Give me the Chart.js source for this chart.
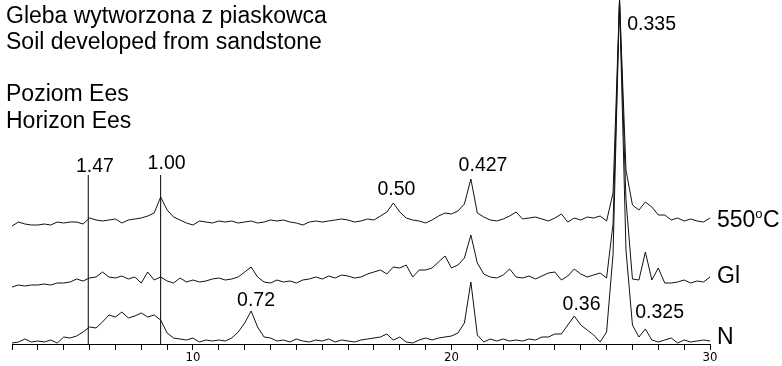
<!DOCTYPE html>
<html><head><meta charset="utf-8">
<script src="https://cdn.jsdelivr.net/npm/chart.js@4.4.1/dist/chart.umd.min.js"></script>
<style>html,body{margin:0;padding:0;background:#fff;overflow:hidden}canvas{display:block}</style>
</head><body>
<canvas id="c" width="782" height="366"></canvas>
<script>
// ---- DATA ----
const twoTheta = [3,3.25,3.5,3.75,4,4.25,4.5,4.75,5,5.25,5.5,5.75,6,6.25,6.5,6.75,7,7.25,7.5,7.75,8,8.25,8.5,8.75,9,9.25,9.5,9.75,10,10.25,10.5,10.75,11,11.25,11.5,11.75,12,12.25,12.5,12.75,13,13.25,13.5,13.75,14,14.25,14.5,14.75,15,15.25,15.5,15.75,16,16.25,16.5,16.75,17,17.25,17.5,17.75,18,18.25,18.5,18.75,19,19.25,19.5,19.75,20,20.25,20.5,20.75,21,21.25,21.5,21.75,22,22.25,22.5,22.75,23,23.25,23.5,23.75,24,24.25,24.5,24.75,25,25.25,25.5,25.75,26,26.25,26.5,26.75,27,27.25,27.5,27.75,28,28.25,28.5,28.75,29,29.25,29.5,29.75,30];
const seriesNames = ['N', 'Gl', '550°C'];
const intensityN = [
 1,2,5,2, 3,2,4,1, 7,6,8,12, 17,16,22,29, 27,32,26,28, 31,27,29,24, 11,6,5,4,
 6,2,4,3, 4,3,6,12, 21,33,17,7, 6,3,4,2, 5,3,2,4, 3,5,2,4, 3,2,4,5, 6,7,10,4,
 7,2,1,4, 6,4,6,7, 8,11,21,62, 9,2,5,3, 5,3,4,3, 5,4,7,7, 10,10,19,28, 19,14,9,2,
 12,90,344,94, 19,7,15,4, 2,4,6,1, 4,2,3,4, 3];
const intensityGl = [
 1,3,2,3, 3,4,3,5, 5,6,9,7, 10,11,16,11, 10,12,9,11, 5,16,8,11, 7,5,10,6,
 8,6,7,9, 10,8,9,11, 16,21,11,6, 5,8,6,7, 5,8,9,11, 9,12,10,13, 12,10,11,14, 16,18,14,21,
 20,23,11,18, 18,20,26,32, 20,23,30,53, 25,14,11,10, 13,19,11,10, 12,9,12,15, 16,8,12,19, 14,11,13,15,
 10,64,288,88, 9,8,36,8, 20,5,5,6, 8,5,7,6, 11];
const intensity550 = [
 3,7,5,4, 4,5,4,7, 6,7,7,5, 11,9,8,9, 10,6,9,10, 11,13,16,32, 19,12,9,6,
 4,8,7,6, 8,7,8,6, 7,8,6,7, 9,8,9,7, 6,4,7,8, 7,8,9,10, 9,7,8,10, 9,13,17,26,
 17,11,9,8, 6,9,13,16, 15,18,25,50, 16,12,9,8, 10,13,17,10, 11,12,10,8, 11,15,7,11, 9,12,11,13,
 8,36,229,59, 24,19,27,22, 14,14,9,11, 8,10,8,7, 11];
const markerAngles = [5.95, 8.75];
const markerLabels = ['1.47', '1.00'];
const peakLabels = ['0.50', '0.427', '0.72', '0.36', '0.325', '0.335'];
const tickLabels = [10, 20, 30];
const titleLines = ['Gleba wytworzona z piaskowca', 'Soil developed from sandstone', '', 'Poziom Ees', 'Horizon Ees'];

// ---- LAYOUT / STYLE ----
const stackOffsets = [0, 56, 115];
const seriesLabelBase = [0, 61, 117];   // label baseline level per series (y units)
const markerTop = 169;
const markerLabelAnchors = [[6.21, 172], [8.98, 175]];
const peakLabelAnchors = [[17.87, 149], [21.22, 173.3], [12.44, 38], [25.03, 34], [28.05, 25.7], [27.74, 314]];
const FONT = '"Liberation Sans", Arial, sans-serif';

const seriesValues = [intensityN, intensityGl, intensity550];
const datasets = seriesValues.map((vals, s) => ({
  label: seriesNames[s],
  data: twoTheta.map((t, i) => ({x: t, y: vals[i] + stackOffsets[s]})),
  showLine: true, borderColor: '#111', borderWidth: 1, pointRadius: 0, tension: 0
}));
markerAngles.forEach(a => datasets.push({
  label: 'marker', data: [{x: a, y: 0}, {x: a, y: markerTop}],
  showLine: true, borderColor: '#000', borderWidth: 1, pointRadius: 0
}));

const textPlugin = {
  id: 'texts',
  afterDraw(chart) {
    const ctx = chart.ctx, xs = chart.scales.x, ys = chart.scales.y, ca = chart.chartArea;
    ctx.save();
    ctx.fillStyle = '#000';
    ctx.textBaseline = 'alphabetic';
    ctx.textAlign = 'left';
    ctx.font = '23px ' + FONT;
    titleLines.forEach((t, i) => { if (t) ctx.fillText(t, 6, 22.5 + i * 26.3); });
    ctx.font = '19.5px ' + FONT;
    ctx.textAlign = 'center';
    markerLabels.forEach((t, i) => ctx.fillText(t, xs.getPixelForValue(markerLabelAnchors[i][0]), ys.getPixelForValue(markerLabelAnchors[i][1])));
    peakLabels.forEach((t, i) => ctx.fillText(t, xs.getPixelForValue(peakLabelAnchors[i][0]), ys.getPixelForValue(peakLabelAnchors[i][1])));
    // series names
    ctx.textAlign = 'left';
    const lx = ca.right + 7;
    seriesNames.forEach((name, s) => {
      const y = ys.getPixelForValue(seriesLabelBase[s]);
      if (name.includes('°')) {
        const [pre, post] = name.split('°');
        ctx.font = '23px ' + FONT;
        ctx.fillText(pre, lx, y);
        let w = ctx.measureText(pre).width;
        ctx.font = '13px ' + FONT;
        ctx.fillText('o', lx + w, y - 9);
        w += ctx.measureText('o').width + 0.5;
        ctx.font = '23px ' + FONT;
        ctx.fillText(post, lx + w, y);
      } else {
        ctx.font = '23px ' + FONT;
        ctx.fillText(name, lx, y);
      }
    });
    ctx.restore();
  }
};

new Chart(document.getElementById('c'), {
  type: 'scatter',
  data: {datasets},
  options: {
    responsive: false, animation: false, devicePixelRatio: 1,
    layout: {padding: {left: 12, right: 72, top: 0, bottom: 0}},
    plugins: {legend: {display: false}, tooltip: {enabled: false}},
    scales: {
      x: {
        type: 'linear', min: 3, max: 30,
        grid: {display: true, drawOnChartArea: false, drawTicks: true, tickLength: 6, color: '#000', lineWidth: 1},
        border: {display: true, color: '#000', width: 1},
        ticks: {stepSize: 1, autoSkip: false, maxRotation: 0, padding: 0, color: '#000',
          font: {family: '"Liberation Sans Narrow", "DejaVu Sans Condensed", sans-serif', size: 13},
          callback: v => tickLabels.includes(v) ? String(v) : ''},
        afterFit(scale) { scale.height = 22; }
      },
      y: {type: 'linear', min: 0, max: 344, display: false}
    }
  },
  plugins: [textPlugin]
});
</script>
</body></html>
